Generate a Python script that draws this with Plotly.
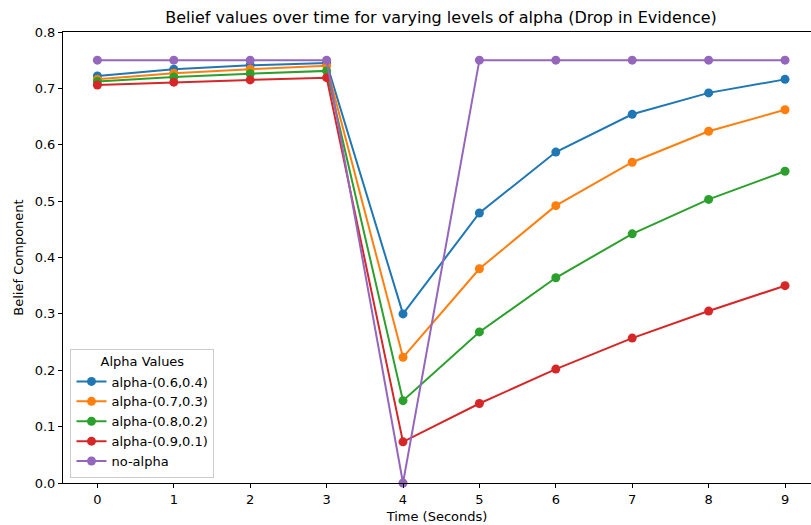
import plotly.graph_objects as go

time = [0, 1, 2, 3, 4, 5, 6, 7, 8, 9]
series_names = ["alpha-(0.6,0.4)", "alpha-(0.7,0.3)", "alpha-(0.8,0.2)", "alpha-(0.9,0.1)", "no-alpha"]
alpha_06 = [0.722, 0.734, 0.741, 0.745, 0.300, 0.479, 0.587, 0.654, 0.692, 0.716]
alpha_07 = [0.716, 0.727, 0.734, 0.740, 0.223, 0.380, 0.492, 0.569, 0.624, 0.662]
alpha_08 = [0.712, 0.720, 0.726, 0.731, 0.146, 0.268, 0.364, 0.442, 0.503, 0.553]
alpha_09 = [0.706, 0.711, 0.715, 0.719, 0.073, 0.141, 0.202, 0.257, 0.305, 0.350]
no_alpha = [0.75, 0.75, 0.75, 0.75, 0.0, 0.75, 0.75, 0.75, 0.75, 0.75]
colors = ["#1f77b4", "#ff7f0e", "#2ca02c", "#d62728", "#9467bd"]
y_ticks = [0.0, 0.1, 0.2, 0.3, 0.4, 0.5, 0.6, 0.7, 0.8]

fig = go.Figure()
for name, vals, c in zip(series_names, [alpha_06, alpha_07, alpha_08, alpha_09, no_alpha], colors):
    fig.add_trace(go.Scatter(x=time, y=vals, name=name, mode="lines+markers",
                             line=dict(color=c, width=2), marker=dict(color=c, size=9),
                             cliponaxis=False))

font = "DejaVu Sans"
fig.update_layout(
    width=811, height=525,
    margin=dict(l=63, r=0, t=32, b=42),
    paper_bgcolor="white", plot_bgcolor="white",
    font=dict(family=font, size=13, color="black"),
    title=dict(text="Belief values over time for varying levels of alpha (Drop in Evidence)",
               x=441 / 811, xanchor="center", y=0.967, yanchor="middle", font=dict(size=16)),
    showlegend=True,
    legend=dict(x=0.01, y=0.012, xanchor="left", yanchor="bottom",
                bgcolor="rgba(255,255,255,0.8)", bordercolor="#cccccc", borderwidth=1,
                title=dict(text="Alpha Values", side="top center", font=dict(size=13)),
                font=dict(size=13), tracegroupgap=0, itemwidth=30),
)
fig.update_xaxes(range=[-0.45, 9.34], tickmode="array", tickvals=time,
                 ticktext=[str(t) for t in time], showgrid=False, zeroline=False,
                 showline=True, linecolor="black", linewidth=1, mirror=True,
                 ticks="outside", ticklen=4, tickcolor="black",
                 title=dict(text="Time (Seconds)", standoff=6, font=dict(size=13)))
fig.update_yaxes(range=[0, 0.8], tickmode="array", tickvals=y_ticks,
                 ticktext=[f"{v:.1f}" for v in y_ticks], showgrid=False, zeroline=False,
                 showline=True, linecolor="black", linewidth=1, mirror=True,
                 ticks="outside", ticklen=4, tickcolor="black",
                 title=dict(text="Belief Component", standoff=8, font=dict(size=13)))

fig.write_html("out.html")
